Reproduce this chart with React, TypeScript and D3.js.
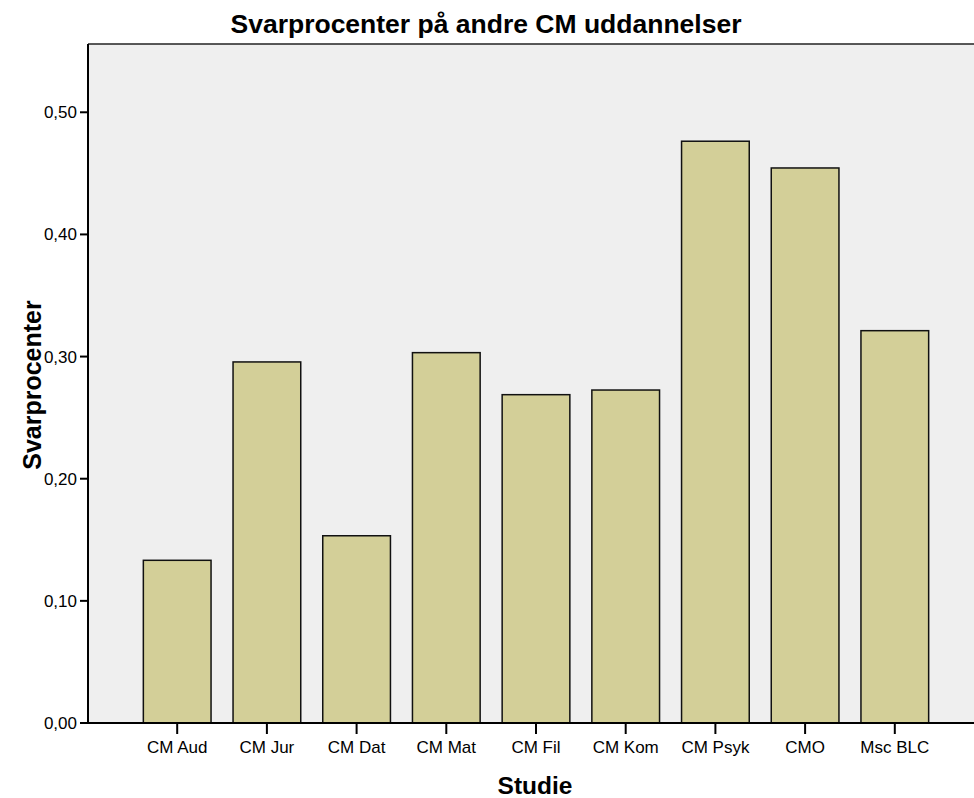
import React from "react";
import * as d3 from "d3";

const categories = ["CM Aud", "CM Jur", "CM Dat", "CM Mat", "CM Fil", "CM Kom", "CM Psyk", "CMO", "Msc BLC"];
const values = [0.1332, 0.2956, 0.1533, 0.3032, 0.2688, 0.2726, 0.4763, 0.4544, 0.3212];
const yTicks = [0, 0.1, 0.2, 0.3, 0.4, 0.5];

const W = 974;
const H = 798;
const left = 88;
const right = 984;
const top = 44;
const bottom = 723;

export default function App() {
  const x = d3
    .scaleBand<string>()
    .domain(categories)
    .range([left, right])
    .paddingInner(0.2453)
    .paddingOuter(0.617);
  const y = d3.scaleLinear().domain([0, 0.5559]).range([bottom, top]);
  const fmt = (v: number) => d3.format(".2f")(v).replace(".", ",");
  const font = "'Liberation Sans', Arial, sans-serif";

  return (
    <svg
      width={W}
      height={H}
      style={{ position: "absolute", left: 0, top: 0, display: "block", background: "#fff" }}
      fontFamily={font}
    >
      <rect x={left} y={top} width={right - left} height={bottom - top} fill="#EFEFEF" />
      <line x1={left} x2={right} y1={top} y2={top} stroke="#222" strokeWidth={1.5} />
      {categories.map((c, i) => (
        <rect
          key={c}
          x={x(c)!}
          y={y(values[i])}
          width={x.bandwidth()}
          height={bottom - y(values[i])}
          fill="#D3CF98"
          stroke="#111"
          strokeWidth={1.5}
        />
      ))}
      <line x1={left} x2={left} y1={top} y2={bottom} stroke="#000" strokeWidth={2} />
      <line x1={left - 8} x2={right} y1={bottom} y2={bottom} stroke="#000" strokeWidth={2} />
      {yTicks.map((t) => (
        <g key={t}>
          <line x1={left - 8} x2={left} y1={y(t)} y2={y(t)} stroke="#000" strokeWidth={2} />
          <text x={left - 11} y={y(t)} dy="0.35em" textAnchor="end" fontSize={17} fill="#000">
            {fmt(t)}
          </text>
        </g>
      ))}
      {categories.map((c) => {
        const cx = x(c)! + x.bandwidth() / 2;
        return (
          <g key={c}>
            <line x1={cx} x2={cx} y1={bottom} y2={bottom + 11} stroke="#000" strokeWidth={2} />
            <text x={cx} y={753} textAnchor="middle" fontSize={17} fill="#000">
              {c}
            </text>
          </g>
        );
      })}
      <text x={486} y={33} textAnchor="middle" fontSize={26.5} fontWeight="bold" fill="#000">
        Svarprocenter på andre CM uddannelser
      </text>
      <text x={535} y={794} textAnchor="middle" fontSize={24.5} fontWeight="bold" fill="#000">
        Studie
      </text>
      <text
        transform={`translate(41, 385) rotate(-90)`}
        textAnchor="middle"
        fontSize={25}
        fontWeight="bold"
        fill="#000"
      >
        Svarprocenter
      </text>
    </svg>
  );
}
